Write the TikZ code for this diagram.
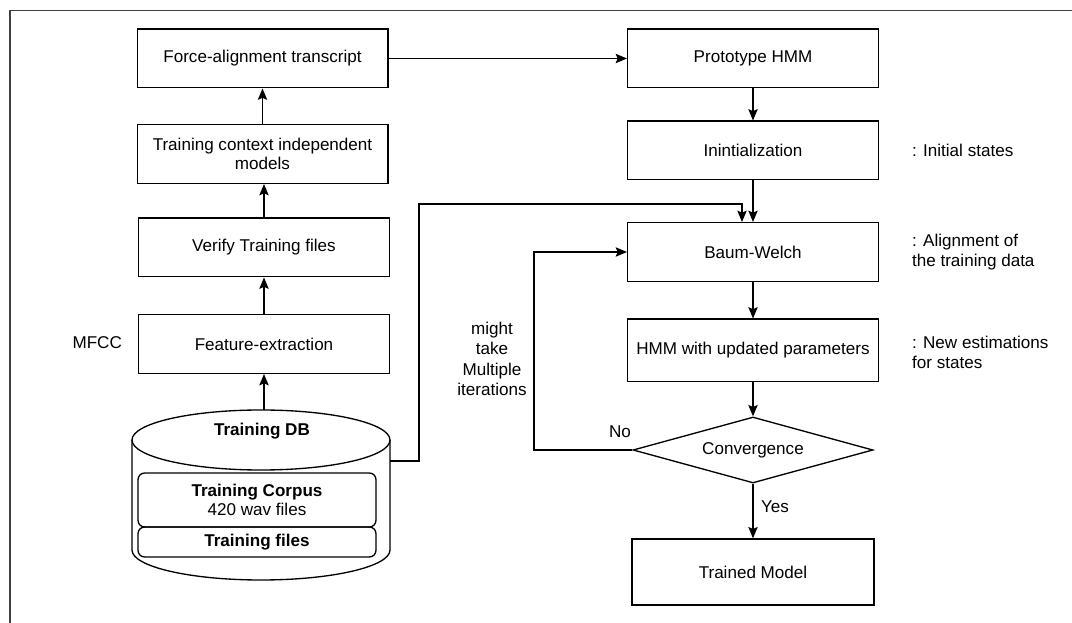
\documentclass[tikz,border=0pt]{standalone}
\usepackage{fontspec}
\setmainfont{Liberation Sans}
\usetikzlibrary{arrows.meta,shapes.geometric}
\begin{document}
\begin{tikzpicture}[x=0.75pt,y=-0.75pt,
  font=\fontsize{12.8}{14.5}\selectfont,
  line width=1pt,
  >={Stealth[length=8.5pt,width=7pt,inset=1.5pt]},
  box/.style={draw, minimum width=188pt, minimum height=44pt, align=center, inner sep=2pt},
  note/.style={align=left, anchor=west, font=\fontsize{12.8}{15}\selectfont},
  dbbox/.style={draw, rounded corners=5pt, minimum width=178.5pt, align=center, inner sep=1pt}]
\useasboundingbox (0,0) rectangle (1072,623);
\draw[line width=1.2pt, black!75] (10,623) -- (10,10.5) -- (1072,10.5);

% left column
\node[box] (fa) at (262.5,58.5) {Force-alignment transcript};
\node[box] (tc) at (262.5,154) {Training context independent\\models};
\node[box] (vt) at (264,247.5) {Verify Training files};
\node[box] (fe) at (264,344) {Feature-extraction};
\node[anchor=east] (mfcc) at (127,343) {MFCC};

% database cylinder
\draw (132,440) -- (132,550) arc[start angle=180,end angle=0,x radius=129,y radius=30] -- (390,440);
\draw (261,440) ellipse [x radius=129, y radius=30];
\coordinate (dbtop) at (264,410);
\coordinate (dbright) at (390,461);
\node[font=\fontsize{12.8}{14.5}\selectfont\bfseries] (db) at (262,431) {Training DB};
\node[dbbox, minimum height=40.5pt] (corpus) at (257,500) {\textbf{Training Corpus}\\420 wav files};
\node[dbbox, minimum height=22.5pt] (tfiles) at (257,542) {\textbf{Training files}};

% right column
\node[box] (proto) at (753,58.5) {Prototype HMM};
\node[box] (init) at (753,150.5) {Inintialization};
\node[box] (bw) at (753,252) {Baum-Welch};
\node[box, minimum height=47pt] (hmm) at (753,350.5) {HMM with updated parameters};
\node[diamond, draw, aspect=3.6, inner sep=0pt, minimum width=180pt, minimum height=49.5pt] (conv) at (753,450) {Convergence};
\node[box, minimum width=181.5pt, minimum height=49.5pt] (tm) at (753,572) {Trained Model};

% notes
\node[note] (n1) at (907,150) {: Initial states};
\node[note] (n2) at (907,252) {: Alignment of\\the training data};
\node[note] (n3) at (907,352.5) {: New estimations\\for states};
\node[align=center, font=\fontsize{12.8}{15.4}\selectfont] (mt) at (492,359) {might\\take\\Multiple\\iterations};
\node (no) at (620,432) {No};
\node (yes) at (775,507) {Yes};

% connectors
\draw[->] (fa) -- (proto);
\draw[->] (tc) -- (fa);
\draw[->] (vt.north) -- (vt.north |- tc.south);
\draw[->] (fe.north) -- (fe.north |- vt.south);
\draw[->] (dbtop) -- (fe.south);
\draw[->] (proto) -- (init);
\draw[->] (init) -- (bw);
\draw[->] (bw) -- (hmm);
\draw[->] (hmm) -- (conv);
\draw[->] (conv) -- (tm);
\coordinate (loopc) at (534,450);
\draw[->] (conv.west) -- (loopc) |- (bw.west);
\coordinate (c1) at (419,204);
\draw[->] (dbright) -| (c1) -| ([xshift=-8.25pt]bw.north);
\end{tikzpicture}
\end{document}
